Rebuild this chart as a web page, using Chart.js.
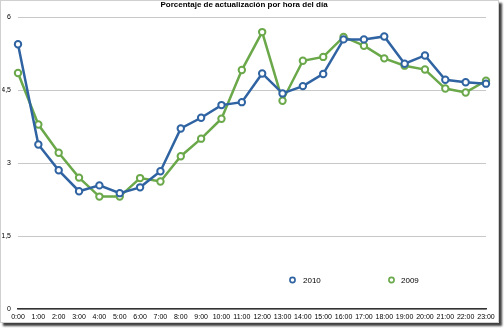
<!DOCTYPE html>
<html>
<head>
<meta charset="utf-8">
<script src="https://cdn.jsdelivr.net/npm/chart.js@4/dist/chart.umd.min.js"></script>
<style>
  html, body { margin: 0; padding: 0; background: #fff; }
  #frame { position: absolute; left: 0; top: 0; width: 499px; height: 323px; background: #fff;
           border: 1px solid #d0d0d0; box-sizing: border-box; box-shadow: 3px 3px 2px rgba(0,0,0,0.75); }
  #c { position: absolute; left: 0; top: 0; }
</style>
</head>
<body>
<div id="frame"></div>
<canvas id="c" width="504" height="328"></canvas>
<script>
const title = "Porcentaje de actualización por hora del día";
const hours = ["0:00","1:00","2:00","3:00","4:00","5:00","6:00","7:00","8:00","9:00","10:00","11:00",
               "12:00","13:00","14:00","15:00","16:00","17:00","18:00","19:00","20:00","21:00","22:00","23:00"];
const values2010 = [5.44, 3.38, 2.85, 2.42, 2.54, 2.38, 2.50, 2.83, 3.71, 3.93, 4.19, 4.25,
                    4.84, 4.43, 4.58, 4.83, 5.54, 5.54, 5.60, 5.04, 5.21, 4.71, 4.66, 4.63];
const values2009 = [4.85, 3.79, 3.21, 2.70, 2.31, 2.31, 2.69, 2.62, 3.14, 3.50, 3.91, 4.91,
                    5.69, 4.28, 5.10, 5.18, 5.59, 5.41, 5.15, 5.00, 4.92, 4.53, 4.45, 4.69];
const yTicks = [0, 1.5, 3, 4.5, 6];

const blue = "#2f63a2";
const green = "#6aa84a";
const FONT = "'Liberation Sans', Arial, sans-serif";

const innerLegend = {
  id: "innerLegend",
  afterDraw(chart) {
    const ctx = chart.ctx;
    const pos = [[292.5, 303], [391.5, 401]];
    ctx.save();
    chart.data.datasets.forEach((ds, i) => {
      const [mx, tx] = pos[i];
      const y = 280;
      ctx.beginPath();
      ctx.arc(mx, y, 2.6, 0, Math.PI * 2);
      ctx.fillStyle = "#fff";
      ctx.fill();
      ctx.lineWidth = 1.6;
      ctx.strokeStyle = ds.borderColor;
      ctx.stroke();
      ctx.fillStyle = "#000";
      ctx.font = "8px " + FONT;
      ctx.textBaseline = "middle";
      ctx.textAlign = "left";
      ctx.fillText(ds.label, tx, y + 0.5);
    });
    ctx.restore();
  }
};

new Chart(document.getElementById("c"), {
  type: "line",
  data: {
    labels: hours,
    datasets: [
      { label: "2010", data: values2010, borderColor: blue, backgroundColor: "#fff",
        pointBorderColor: blue, pointBackgroundColor: "#fff" },
      { label: "2009", data: values2009, borderColor: green, backgroundColor: "#fff",
        pointBorderColor: green, pointBackgroundColor: "#fff" }
    ]
  },
  options: {
    responsive: false,
    animation: false,
    devicePixelRatio: 1,
    layout: { padding: { left: 2, right: 18, top: 0, bottom: 0 } },
    elements: {
      line: { tension: 0, borderWidth: 2.5 },
      point: { radius: 3.2, borderWidth: 2 }
    },
    plugins: {
      legend: { display: false },
      tooltip: { enabled: false },
      title: {
        display: true, text: title, color: "#000",
        font: { family: FONT, size: 8, weight: "bold" },
        padding: { top: 0, bottom: 7.4 }
      }
    },
    scales: {
      x: {
        offset: false,
        grid: { display: false, drawTicks: false },
        border: { display: true, color: "#333", width: 1.5 },
        ticks: { color: "#000", font: { family: FONT, size: 7 }, padding: 3.5,
                 autoSkip: false, maxRotation: 0, minRotation: 0 },
        afterFit(scale) { scale.height = 19; }
      },
      y: {
        min: 0, max: 6,
        afterBuildTicks(scale) { scale.ticks = yTicks.map(v => ({ value: v })); },
        grid: { color: "#c8c8c8", lineWidth: 1, drawTicks: false },
        border: { display: false },
        ticks: { color: "#000", font: { family: FONT, size: 7 }, padding: 7,
                 callback: v => String(v).replace(".", ",") },
        afterFit(scale) { scale.width = 16; }
      }
    }
  },
  plugins: [innerLegend]
});
</script>
</body>
</html>
